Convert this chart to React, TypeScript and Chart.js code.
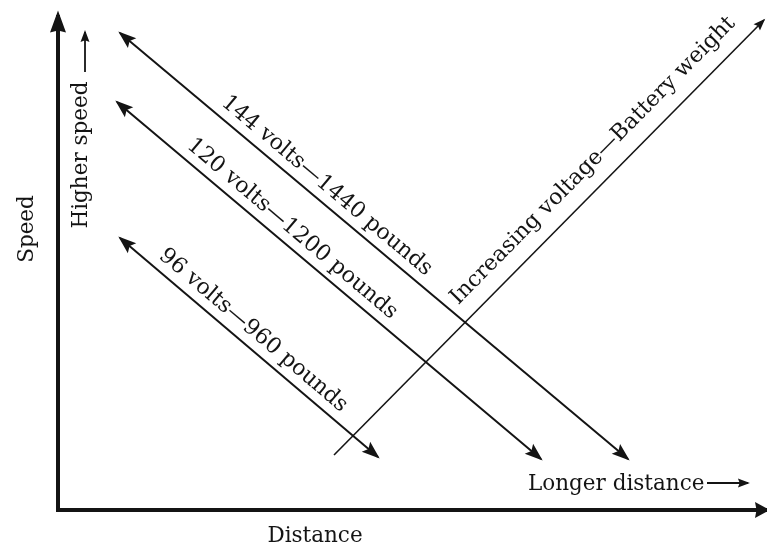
import { useEffect, useRef } from 'react';
import { Chart, registerables } from 'chart.js';

Chart.register(...registerables);

// ---- Data (diagram units: distance to the right, speed upward; origin where the axes meet) ----
const distanceRange = [-58, 709];
const speedRange = [-36, 510];

const distanceAxisEnds = [-2, 709];
const speedAxisEnds = [-2, 495];

const batteryLabels = ['144 volts\u20141440 pounds', '120 volts\u20141200 pounds', '96 volts\u2014960 pounds'];
const batteryStartDistance = [62, 59, 62];
const batteryStartSpeed = [477, 408, 272];
const batteryEndDistance = [570, 483, 320];
const batteryEndSpeed = [51, 51, 53];
const batteryLabelAt = [0.387, 0.389, 0.477];

const voltageLabel = 'Increasing voltage\u2014Battery weight';
const voltageDistance = [276, 706];
const voltageSpeed = [55, 490];
const voltageLabelAt = 0.64;

const axisTitles = ['Distance', 'Speed'];
const distanceTitleAt = [257, -32];
const speedTitleAt = [-25, 229 + 52];

const higherSpeedLabel = 'Higher speed';
const higherSpeedLabelAt = [29, 355];
const higherSpeedArrowDistance = [27, 27];
const higherSpeedArrowSpeed = [438, 478];

const longerDistanceLabel = 'Longer distance';
const longerDistanceLabelAt = [470, 20];
const longerDistanceArrowDistance = [649, 690];
const longerDistanceArrowSpeed = [27, 27];

const INK = '#141414';
const FONT = '"DejaVu Serif", "Liberation Serif", serif';

type Pt = { x: number; y: number };
const pts = (xs: number[], ys: number[]): Pt[] => xs.map((x, i) => ({ x, y: ys[i] }));

function drawHead(ctx: CanvasRenderingContext2D, tip: Pt, from: Pt, len: number, half: number, lw: number, notch: number) {
  const a = Math.atan2(tip.y - from.y, tip.x - from.x);
  const ext = (lw * len) / (2 * half);
  ctx.save();
  ctx.translate(tip.x, tip.y);
  ctx.rotate(a);
  ctx.translate(ext * 0.8, 0);
  ctx.beginPath();
  ctx.moveTo(0, 0);
  ctx.lineTo(-len, -half);
  ctx.lineTo(-len * (1 - notch), 0);
  ctx.lineTo(-len, half);
  ctx.closePath();
  ctx.fillStyle = INK;
  ctx.fill();
  ctx.restore();
}

const arrowPlugin = {
  id: 'arrowHeads',
  afterDatasetsDraw(chart: any) {
    const ctx = chart.ctx as CanvasRenderingContext2D;
    chart.data.datasets.forEach((ds: any, i: number) => {
      const head = ds.head;
      if (!head) return;
      const el = chart.getDatasetMeta(i).data;
      if (el.length < 2) return;
      const p0 = { x: el[0].x, y: el[0].y };
      const p1 = { x: el[el.length - 1].x, y: el[el.length - 1].y };
      if (head.end) drawHead(ctx, p1, p0, head.len, head.half, ds.borderWidth, head.notch);
      if (head.start) drawHead(ctx, p0, p1, head.len, head.half, ds.borderWidth, head.notch);
    });
  },
};

const textPlugin = {
  id: 'diagramText',
  afterDraw(chart: any) {
    const ctx = chart.ctx as CanvasRenderingContext2D;
    const xs = chart.scales.x;
    const ys = chart.scales.y;
    const put = (text: string, px: number, py: number, rot: number, align: CanvasTextAlign, size: number) => {
      ctx.save();
      ctx.translate(px, py);
      ctx.rotate(rot);
      ctx.font = `${size}px ${FONT}`;
      ctx.fillStyle = INK;
      ctx.textAlign = align;
      ctx.textBaseline = 'alphabetic';
      ctx.fillText(text, 0, 0);
      ctx.restore();
    };
    const alongLine = (text: string, a: Pt, b: Pt, t: number, off: number, size: number) => {
      const A = { x: xs.getPixelForValue(a.x), y: ys.getPixelForValue(a.y) };
      const B = { x: xs.getPixelForValue(b.x), y: ys.getPixelForValue(b.y) };
      let ang = Math.atan2(B.y - A.y, B.x - A.x);
      if (ang > Math.PI / 2 || ang < -Math.PI / 2) ang += Math.PI;
      const nx = Math.sin(ang);
      const ny = -Math.cos(ang);
      const px = A.x + (B.x - A.x) * t + nx * off;
      const py = A.y + (B.y - A.y) * t + ny * off;
      put(text, px, py, ang, 'center', size);
    };

    batteryLabels.forEach((lab, i) => {
      alongLine(
        lab,
        { x: batteryStartDistance[i], y: batteryStartSpeed[i] },
        { x: batteryEndDistance[i], y: batteryEndSpeed[i] },
        batteryLabelAt[i],
        10,
        22
      );
    });
    alongLine(
      voltageLabel,
      { x: voltageDistance[0], y: voltageSpeed[0] },
      { x: voltageDistance[1], y: voltageSpeed[1] },
      voltageLabelAt,
      17,
      22
    );

    put(axisTitles[0], xs.getPixelForValue(distanceTitleAt[0]), ys.getPixelForValue(distanceTitleAt[1]), 0, 'center', 21.5);
    put(axisTitles[1], xs.getPixelForValue(speedTitleAt[0]), ys.getPixelForValue(speedTitleAt[1]), -Math.PI / 2, 'center', 21.5);
    put(higherSpeedLabel, xs.getPixelForValue(higherSpeedLabelAt[0]), ys.getPixelForValue(higherSpeedLabelAt[1]), -Math.PI / 2, 'center', 21.5);
    put(longerDistanceLabel, xs.getPixelForValue(longerDistanceLabelAt[0]), ys.getPixelForValue(longerDistanceLabelAt[1]), 0, 'left', 21.5);
  },
};

export default function App() {
  const ref = useRef<HTMLCanvasElement | null>(null);

  useEffect(() => {
    if (!ref.current) return;
    const line = (data: Pt[], width: number, head?: any) => ({
      data,
      showLine: true,
      borderColor: INK,
      backgroundColor: INK,
      borderWidth: width,
      pointRadius: 0,
      pointHoverRadius: 0,
      borderCapStyle: 'butt',
      tension: 0,
      head,
    });

    const datasets: any[] = [
      line(pts(distanceAxisEnds, [0, 0]), 4, { end: true, len: 15, half: 8, notch: 0.1 }),
      line(pts([0, 0], speedAxisEnds), 4, { end: true, len: 22, half: 8, notch: 0.1 }),
      ...batteryLabels.map((_, i) =>
        line(
          pts([batteryStartDistance[i], batteryEndDistance[i]], [batteryStartSpeed[i], batteryEndSpeed[i]]),
          2,
          { start: true, end: true, len: 18, half: 6.5, notch: 0.18 }
        )
      ),
      line(pts(voltageDistance, voltageSpeed), 1.6, { end: true, len: 12, half: 4.5, notch: 0.15 }),
      line(pts(higherSpeedArrowDistance, higherSpeedArrowSpeed), 1.8, { end: true, len: 12, half: 4.5, notch: 0.15 }),
      line(pts(longerDistanceArrowDistance, longerDistanceArrowSpeed), 1.8, { end: true, len: 12, half: 4.5, notch: 0.15 }),
    ];

    const chart = new Chart(ref.current, {
      type: 'scatter',
      data: { datasets },
      options: {
        animation: false,
        responsive: false,
        maintainAspectRatio: false,
        events: [],
        layout: { padding: 0 },
        plugins: { legend: { display: false }, tooltip: { enabled: false } },
        scales: {
          x: { type: 'linear', min: distanceRange[0], max: distanceRange[1], display: false },
          y: { type: 'linear', min: speedRange[0], max: speedRange[1], display: false },
        },
      } as any,
      plugins: [arrowPlugin, textPlugin],
    });
    return () => chart.destroy();
  }, []);

  return (
    <div style={{ position: 'fixed', left: 0, top: 0, width: 767, height: 546, background: '#fff' }}>
      <canvas ref={ref} width={767} height={546} style={{ display: 'block', width: 767, height: 546 }} />
    </div>
  );
}
